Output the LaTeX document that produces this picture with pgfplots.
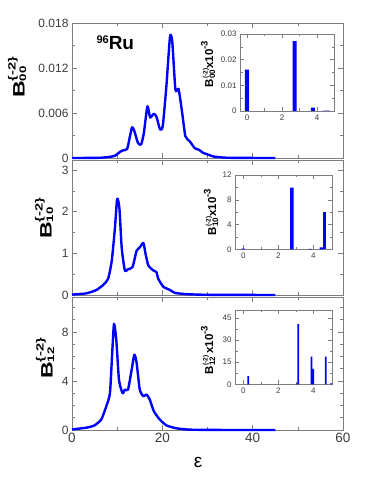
\documentclass[border=0pt]{standalone}
\usepackage{pgfplots}
\pgfplotsset{compat=1.18}
\usepackage{fontspec}
\setmainfont{Liberation Sans}
\definecolor{fr}{RGB}{125,125,125}
\definecolor{cb}{RGB}{0,0,255}
\definecolor{tl}{RGB}{60,60,60}

\newcommand\mainlab[2]{\scalebox{1.4}[1]{\bfseries\fontsize{16.5}{16.5}\selectfont B\rlap{\raisebox{9pt}{\fontsize{10.5}{10.5}\selectfont\{-2\}}}\raisebox{-1.5pt}{\fontsize{9.5}{9.5}\selectfont #1}}}
\newcommand\inlab[2]{\bfseries\fontsize{11.5}{11.5}\selectfont B\rlap{\raisebox{5.5pt}{\fontsize{6.5}{6.5}\selectfont(-2)}}\raisebox{-2pt}{\fontsize{8}{8}\selectfont #1}\hspace{1.5pt}#2x10\raisebox{5.5pt}{\fontsize{9.5}{9.5}\selectfont -3}}

\pgfplotsset{
  mainax/.style={scale only axis, width=271pt, xmin=0, xmax=60,
    axis line style={fr, line width=0.7pt},
    every tick/.style={fr, line width=0.6pt},
    major tick length=5pt, minor tick length=3pt, tick align=inside,
    xtick={0,20,40,60}, minor xtick={10,30,50},
    yticklabel style={font=\fontsize{12}{12}\selectfont, text=tl},
    xticklabel style={font=\fontsize{13.5}{13.5}\selectfont, text=tl},
    /pgf/number format/assume math mode=true,
    scaled y ticks=false, clip=false, anchor=south west},
  inax/.style={scale only axis, anchor=south west,
    axis line style={fr, line width=0.6pt},
    every tick/.style={fr, line width=0.5pt},
    major tick length=4pt, minor tick length=2.5pt, tick align=inside,
    xtick={0,2,4}, minor xtick={1,3},
    ticklabel style={font=\fontsize{8}{8}\selectfont, text=tl},
    /pgf/number format/assume math mode=true,
    scaled y ticks=false, ymin=0, axis background/.style={fill=white}},
  curve/.style={cb, line width=2.4pt, line join=round, smooth, tension=0.35},
  bar/.style={ybar, bar shift=0pt, fill=cb, draw=none}
}

\begin{document}
\begin{tikzpicture}
\path[use as bounding box] (0pt,0pt) rectangle (382pt,495pt);

% ---------- panel 1 ----------
\begin{axis}[mainax, at={(72pt,337pt)}, height=135pt, ymin=0, ymax=0.018,
  ytick={0,0.006,0.012,0.018}, yticklabels={0,0.006,0.012,0.018},
  minor ytick={0.003,0.009,0.015}, xticklabels={}]
\addplot[curve] coordinates {
(0,0) (4,0.00001) (6.2,0.00003) (8,0.00012) (9.5,0.0003) (10.5,0.00076) (11.2,0.001) (12.2,0.0012)
(12.8,0.0028) (13.3,0.0041) (13.8,0.0036) (14.6,0.002) (15.3,0.0018) (15.9,0.0033)
(16.7,0.0069) (17.3,0.0054) (18.1,0.0059) (18.7,0.0055) (19.5,0.0038) (20.1,0.0043)
(20.9,0.0096) (21.7,0.0162) (22.2,0.0155) (22.9,0.0091) (23.6,0.0092) (24.4,0.006)
(25.1,0.0029) (26.1,0.0022) (27.2,0.0013) (28.1,0.0011) (29,0.0007) (30.4,0.0004)
(31.3,0.0002) (34,0.00004) (38,0.00001) (45,0)};
\end{axis}
\node[anchor=base west, font=\bfseries] at (93pt,445pt)
  {\raisebox{6pt}{\fontsize{11}{11}\selectfont 96}\fontsize{19}{19}\selectfont Ru};
\node[rotate=90] at (17pt,413pt) {\mainlab{00}{}};

\begin{axis}[inax, at={(240pt,384pt)}, width=94.3pt, height=77pt,
  xmin=-0.4, xmax=4.99, ymax=0.03,
  ytick={0,0.01,0.02,0.03}, yticklabels={0,0.01,0.02,0.03},
  minor ytick={0.005,0.015,0.025}]
\addplot[bar, bar width=0.23] coordinates {(0,0.0161) (2.72,0.0272) (3.77,0.0013)};
\addplot[bar, bar width=0.4, fill=cb!35] coordinates {(4.53,0.0003)};
\end{axis}
\node[rotate=90] at (208pt,431pt) {\inlab{00}{}};

% ---------- panel 2 ----------
\begin{axis}[mainax, at={(72pt,200pt)}, height=135pt, ymin=0, ymax=3.24,
  ytick={0,1,2,3}, minor ytick={0.5,1.5,2.5}, xticklabels={}]
\addplot[curve] coordinates {
(0,0.01) (3.2,0.04) (5.4,0.12) (6.9,0.24) (8,0.39) (8.8,0.82) (9.5,1.6) (10,2.31)
(10.5,2.08) (11,1.14) (11.7,0.59) (12.4,0.62) (13.4,0.67) (14.3,1.06) (15,1.14)
(15.8,1.25) (16.3,0.98) (16.9,0.71) (18,0.59) (18.7,0.55) (19.1,0.39) (20.2,0.2)
(21.7,0.12) (22.8,0.05) (25.4,0.02) (30,0.005) (45,0)};
\end{axis}
\node[rotate=90] at (44pt,272pt) {\mainlab{10}{}};

\begin{axis}[inax, at={(235pt,245.7pt)}, width=97.3pt, height=74.3pt,
  xmin=-0.47, xmax=5.08, ymax=12,
  ytick={0,4,8,12}, minor ytick={2,6,10}]
\addplot[bar, bar width=0.2] coordinates {(0,0.12) (2.77,9.95) (3.82,0.06) (4.45,0.3)};
\addplot[bar, bar width=0.17] coordinates {(4.65,5.95)};
\end{axis}
\node[rotate=90] at (211pt,283pt) {\inlab{10}{}};

% ---------- panel 3 ----------
\begin{axis}[mainax, at={(72pt,65pt)}, height=133pt, ymin=0, ymax=10.86,
  ytick={0,4,8}, minor ytick={1,2,3,5,6,7,9,10},
  xticklabels={0,20,40,60}]
\addplot[curve] coordinates {
(0,0.05) (3.2,0.19) (5,0.38) (6.5,0.87) (7.6,1.95) (8.4,3.0) (8.9,6.3) (9.3,8.67)
(9.8,7.4) (10.4,4.1) (11.2,3.0) (11.7,3.3) (12.4,3.3) (13.2,4.9) (13.8,6.15)
(14.3,5.5) (15,3.3) (15.8,2.76) (16.5,2.9) (17.2,2.5) (18.1,1.55) (19.4,0.87)
(20.9,0.38) (23.1,0.14) (26,0.03) (32,0.005) (45,0)};
\end{axis}
\node[rotate=90] at (45pt,132pt) {\mainlab{12}{}};
\node[font=\fontsize{19}{19}\selectfont] at (198pt,33pt) {ε};

\begin{axis}[inax, at={(235pt,110.7pt)}, width=97.3pt, height=74.3pt,
  xmin=-0.47, xmax=5.08, ymax=50.3,
  ytick={0,15,30,45}, minor ytick={7.5,22.5,37.5}]
\addplot[bar, bar width=0.1] coordinates {(0.29,5.6) (3.05,0.5) (3.14,40.8) (3.9,18.7) (4.0,10.4) (4.7,18.7) (5.0,0.7)};
\end{axis}
\node[rotate=90] at (208pt,145pt) {\inlab{12}{\,}};
\end{tikzpicture}
\end{document}
